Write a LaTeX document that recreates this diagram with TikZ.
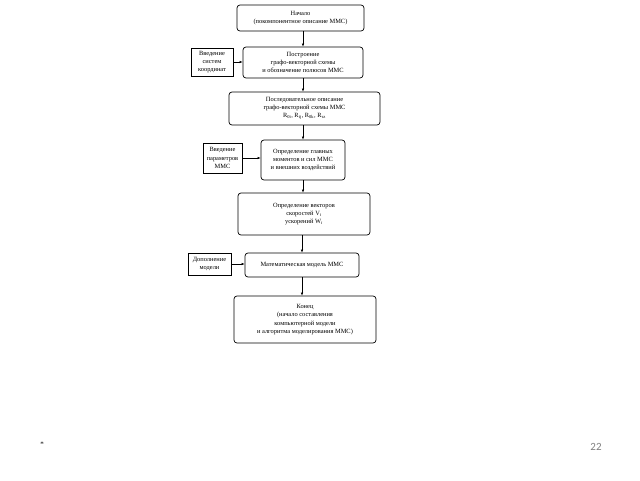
\documentclass[tikz,border=0pt]{standalone}
\usepackage{fontspec}
\setmainfont{Liberation Serif}
\newfontfamily\pagefont{Carlito}
\usetikzlibrary{arrows.meta,positioning,calc}

\begin{document}
\begin{tikzpicture}[x=1pt,y=-1pt,every node/.style={font=\fontsize{6.4}{8.2}\selectfont},
 blk/.style={draw,rounded corners=3pt,align=center,inner sep=1pt,line width=0.7pt},
 aux/.style={draw,align=center,inner sep=1pt,line width=0.5pt},
 arr/.style={-{Latex[length=3pt,width=2.4pt]},line width=0.5pt}]
\useasboundingbox[fill=white] (0,0) rectangle (640,480);
% main chain
\node[blk,minimum width=127pt,minimum height=26pt] (start) at (300.5,18) {Начало\\(покомпонентное описание ММС)};
\node[blk,minimum width=120pt,minimum height=31pt] (graph) at (303,62.5) {Построение\\графо-векторной схемы\\и обозначение полюсов ММС};
\node[blk,minimum width=151pt,minimum height=33pt] (descr) at (304.5,108.5) {Последовательное описание\\графо-векторной схемы ММС\\R\textsubscript{0i}, R\textsubscript{ij}, R\textsubscript{0k}, R\textsubscript{τz}};
\node[blk,minimum width=84pt,minimum height=40pt] (moments) at (303,160) {Определение главных\\моментов и сил ММС\\и внешних воздействий};
\node[blk,minimum width=132pt,minimum height=42pt] (vectors) at (304,214) {Определение векторов\\скоростей V\textsubscript{\itshape i}\\ускорений W\textsubscript{\itshape i}};
\node[blk,minimum width=114pt,minimum height=24pt] (model) at (302,265) {Математическая модель ММС};
\node[blk,minimum width=142pt,minimum height=47pt] (finish) at (305,319.5) {Конец\\(начало составления\\компьютерной модели\\и алгоритма моделирования ММС)};
% side inputs
\node[aux,minimum width=42pt,minimum height=28pt] (coords) at (212,62) {Введение\\систем\\координат};
\node[aux,minimum width=39pt,minimum height=30pt] (params) at (222.5,158) {Введение\\параметров\\ММС};
\node[aux,minimum width=43pt,minimum height=22pt] (extra) at (209.5,264) {Дополнение\\модели};
\draw[arr] (start.south -| graph.north) -- (graph.north);
\draw[arr] (graph.south) -- (graph.south |- descr.north);
\draw[arr] (descr.south -| moments.north) -- (moments.north);
\draw[arr] (moments.south) -- (moments.south |- vectors.north);
\draw[arr] (vectors.south -| model.north) -- (model.north);
\draw[arr] (model.south) -- (model.south |- finish.north);
\draw[arr] (coords.east) -- (coords.east -| graph.west);
\draw[arr] (params.east) -- (params.east -| moments.west);
\draw[arr] (extra.east) -- (extra.east -| model.west);
% slide marks
\node[font=\fontsize{7}{8}\selectfont] (star) at (42,444) {*};
\node[font=\pagefont\fontsize{11}{12}\selectfont,text=black!50] (page) at (596,447) {22};
\end{tikzpicture}
\end{document}
